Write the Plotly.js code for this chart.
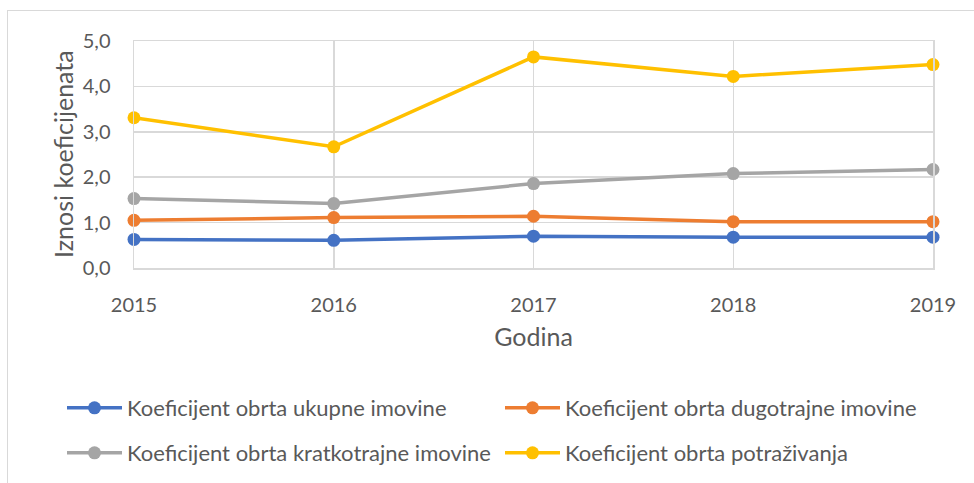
<!DOCTYPE html>
<html>
<head>
<meta charset="utf-8">
<script src="https://cdn.plot.ly/plotly-3.0.1.min.js"></script>
<style>
html,body{margin:0;padding:0;background:#fff;}
#wrap{position:relative;width:974px;height:483px;overflow:hidden;}
#chart{position:absolute;left:0;top:0;width:974px;height:483px;}
#frame{position:absolute;left:7px;top:10px;width:1000px;height:500px;border-left:1.5px solid #d9d9d9;border-top:1.5px solid #d9d9d9;pointer-events:none;}
</style>
</head>
<body>
<div id="wrap"><div id="chart"></div><div id="frame"></div></div>
<script>
const years = [2015, 2016, 2017, 2018, 2019];
const seriesNames = [
  "Koeficijent obrta ukupne imovine",
  "Koeficijent obrta dugotrajne imovine",
  "Koeficijent obrta kratkotrajne imovine",
  "Koeficijent obrta potraživanja"
];
const ukupne = [0.63, 0.61, 0.70, 0.68, 0.68];
const dugotrajne = [1.05, 1.11, 1.14, 1.02, 1.02];
const kratkotrajne = [1.53, 1.42, 1.86, 2.08, 2.17];
const potrazivanja = [3.31, 2.67, 4.65, 4.22, 4.48];
const yTicks = [0, 1, 2, 3, 4, 5];
const xTitle = "Godina";
const yTitle = "Iznosi koeficijenata";

const colors = ["#4472C4", "#ED7D31", "#A5A5A5", "#FFC000"];
const values = [ukupne, dugotrajne, kratkotrajne, potrazivanja];
const legendIds = ["legend", "legend2", "legend3", "legend4"];
const FONT = "Lato, 'Noto Sans', sans-serif";
const txt = "#595959";

const traces = values.map((v, i) => ({
  x: years, y: v, name: seriesNames[i], type: "scatter", mode: "lines+markers",
  line: {color: colors[i], width: 3.5},
  marker: {color: colors[i], size: 13, symbol: "circle"},
  cliponaxis: false,
  legend: legendIds[i]
}));

const W = 974, H = 483;
const legPos = [[62, 408], [500, 408], [62, 453], [500, 453]];
const layout = {
  width: W, height: H,
  margin: {l: 134, r: 41, t: 41, b: 215, autoexpand: false},
  paper_bgcolor: "#fff", plot_bgcolor: "#fff",
  separators: ",.",
  font: {family: FONT, color: txt, size: 20},
  showlegend: true,
  xaxis: {
    range: [2015, 2019], tickvals: years, ticktext: years.map(String),
    showgrid: true, gridcolor: "#d9d9d9", gridwidth: 1.5,
    showline: true, mirror: true, linecolor: "#d9d9d9", linewidth: 1.5,
    zeroline: false, ticks: "", ticklabelstandoff: 18, tickangle: 0,
    automargin: false,
    tickfont: {family: FONT, size: 20, color: txt},
    title: {text: xTitle, font: {family: FONT, size: 25, color: txt}, standoff: 14}
  },
  yaxis: {
    range: [0, 5], tickvals: yTicks, tickformat: ".1f",
    showgrid: true, gridcolor: "#d9d9d9", gridwidth: 1.5,
    showline: true, mirror: true, linecolor: "#d9d9d9", linewidth: 1.5,
    zeroline: false, ticks: "outside", ticklen: 18, tickcolor: "rgba(0,0,0,0)",
    automargin: false,
    tickfont: {family: FONT, size: 20, color: txt}
  },
  annotations: [{
    text: yTitle, textangle: -90, showarrow: false,
    xref: "paper", yref: "paper", x: -0.089, y: 0.502,
    xanchor: "center", yanchor: "middle",
    font: {family: FONT, size: 25, color: txt}
  }]
};
legendIds.forEach((id, i) => {
  layout[id] = {
    xref: "container", yref: "container",
    x: legPos[i][0] / W, y: 1 - legPos[i][1] / H,
    xanchor: "left", yanchor: "middle",
    bgcolor: "rgba(0,0,0,0)", borderwidth: 0,
    itemwidth: 55,
    font: {family: FONT, size: 22, color: txt}
  };
});

Plotly.newPlot("chart", traces, layout, {staticPlot: true, displayModeBar: false});
</script>
</body>
</html>
